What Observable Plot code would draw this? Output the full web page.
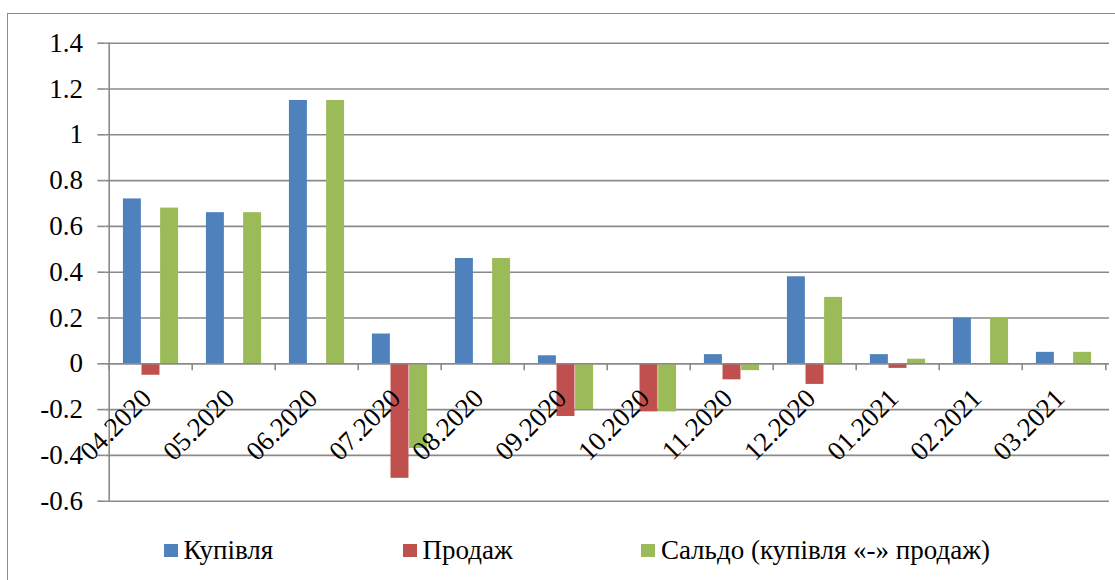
<!DOCTYPE html>
<html>
<head>
<meta charset="utf-8">
<script src="https://cdn.jsdelivr.net/npm/d3@7"></script>
<script src="https://cdn.jsdelivr.net/npm/@observablehq/plot@0.6"></script>
<style>
  html, body { margin: 0; padding: 0; background: #fff; }
  #wrap { position: relative; width: 1115px; height: 580px; overflow: hidden; }
  #border { position: absolute; left: 7px; top: 13px; width: 1200px; height: 700px; border-left: 1.5px solid #8a8a8a; border-top: 1.5px solid #8a8a8a; box-sizing: border-box; }
  #chart { position: absolute; left: 0; top: 0; }
  #legend { position: absolute; left: 0; top: 525px; width: 1115px; height: 55px; color: #000; }
  .item { position: absolute; top: 10px; display: flex; align-items: center; gap: 6px; white-space: nowrap; }
  .sw { width: 13.5px; height: 13px; display: inline-block; }
</style>
</head>
<body>
<div id="wrap">
  <div id="border"></div>
  <div id="chart"></div>
  <div id="legend"></div>
</div>
<script>
const categories = ["04.2020","05.2020","06.2020","07.2020","08.2020","09.2020","10.2020","11.2020","12.2020","01.2021","02.2021","03.2021"];
const seriesNames = ["Купівля", "Продаж", "Сальдо (купівля «-» продаж)"];
const purchase = [0.72, 0.66, 1.15, 0.13, 0.46, 0.035, 0, 0.04, 0.38, 0.04, 0.2, 0.05];
const sale     = [-0.05, 0, 0, -0.5, 0, -0.23, -0.21, -0.07, -0.09, -0.02, 0, 0];
const balance  = [0.68, 0.66, 1.15, -0.37, 0.46, -0.2, -0.21, -0.03, 0.29, 0.02, 0.2, 0.05];
const yTicks = [-0.6, -0.4, -0.2, 0, 0.2, 0.4, 0.6, 0.8, 1, 1.2, 1.4];
const colors = ["#4F81BD", "#C0504D", "#9BBB59"];

const seriesValues = [purchase, sale, balance];
const data = [];
seriesNames.forEach((s, si) => categories.forEach((c, ci) => data.push({cat: c, series: s, si, value: seriesValues[si][ci]})));

const W = 1115, H = 525;
const mL = 105.4, mR = 6, mT = 42.7, mB = H - 500.7;
const step = (W - mL - mR) / categories.length;
const barW = 18.6;
const inset = (step - barW) / 2;
const font = "Liberation Serif";
const fs = 27;
const grid = "#8a8a8a";

const barMarks = seriesNames.map((s, si) =>
  Plot.barY(data.filter(d => d.si === si), {
    x: "cat", y: "value", fill: colors[si],
    insetLeft: inset, insetRight: inset, dx: (si - 1) * barW
  })
);

const chart = Plot.plot({
  width: W, height: H,
  marginLeft: mL, marginRight: mR, marginTop: mT, marginBottom: mB,
  style: {fontFamily: font, fontSize: fs + "px", color: "#000", background: "transparent", overflow: "visible"},
  x: {domain: categories, padding: 0, axis: null},
  y: {domain: [yTicks[0], yTicks[yTicks.length - 1]], ticks: yTicks, grid: false, label: null},
  marks: [
    Plot.ruleY(yTicks, {stroke: grid, strokeWidth: 1.6}),
    ...barMarks,
    Plot.ruleY([0], {stroke: grid, strokeWidth: 1.6}),
    Plot.ruleX([categories[0]], {x: d => d, y1: yTicks[0], y2: yTicks[yTicks.length - 1], dx: -step / 2, stroke: grid, strokeWidth: 1.6}),
    Plot.ruleX(categories, {x: d => d, y1: 0, y2: 0, insetBottom: -7, dx: -step / 2, stroke: grid, strokeWidth: 1.6}),
    Plot.ruleX([categories[categories.length - 1]], {x: d => d, y1: 0, y2: 0, insetBottom: -7, dx: step / 2, stroke: grid, strokeWidth: 1.6}),
    Plot.axisY({ticks: yTicks, tickSize: 8, tickPadding: 15, stroke: grid, strokeWidth: 1.6, tickFormat: d => String(+d.toFixed(1)), fill: "#000", fontSize: fs, fontFamily: font, label: null}),
    Plot.text(categories, {x: d => d, y: 0, text: d => d, rotate: -45, textAnchor: "end", lineAnchor: "middle", dx: -4, dy: 30, fill: "#000", fontSize: fs, fontFamily: font})
  ]
});
document.getElementById("chart").appendChild(chart);

const legendX = [164, 403, 641.4];
const legend = document.getElementById("legend");
seriesNames.forEach((s, i) => {
  const it = document.createElement("div");
  it.className = "item";
  it.style.left = legendX[i] + "px";
  const sw = document.createElement("span");
  sw.className = "sw";
  sw.style.background = colors[i];
  const t = document.createElement("span");
  t.textContent = s;
  t.style.fontFamily = font;
  t.style.fontSize = fs + "px";
  it.appendChild(sw); it.appendChild(t);
  legend.appendChild(it);
});
</script>
</body>
</html>
